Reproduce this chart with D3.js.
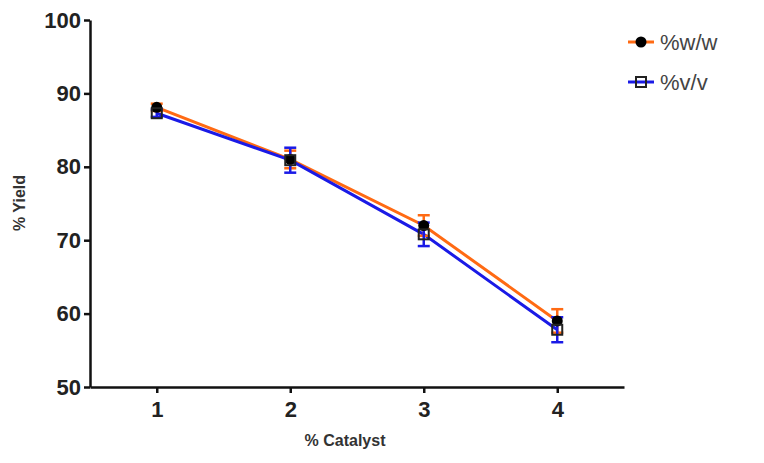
<!DOCTYPE html>
<html><head><meta charset="utf-8">
<script src="https://cdn.jsdelivr.net/npm/d3@7"></script>
<style>body{margin:0;background:#fff}svg{display:block}text{font-family:"Liberation Sans",Arial,sans-serif}</style>
</head><body><svg id="c" width="764" height="463"></svg>
<script>
const categories = [1, 2, 3, 4];
const wwValues = [88.1, 81.0, 72.0, 59.0];
const wwErrors = [0.5, 1.2, 1.4, 1.6];
const vvValues = [87.3, 80.9, 70.8, 57.8];
const vvErrors = [0.5, 1.7, 1.6, 1.7];
const yTicks = [50, 60, 70, 80, 90, 100];
const seriesNames = ["%w/w", "%v/v"];

const svg = d3.select("#c");
const x = d3.scaleLinear().domain([0.5, 4.5]).range([90, 624]);
const y = d3.scaleLinear().domain([50, 100]).range([387, 20]);

const series = [
  {name: seriesNames[0], vals: wwValues, errs: wwErrors, color: "#ff6a13", marker: "circle"},
  {name: seriesNames[1], vals: vvValues, errs: vvErrors, color: "#1a1ae6", marker: "square"}
];

const yAxis = svg.append("g").attr("transform", "translate(90,0)")
  .call(d3.axisLeft(y).tickValues(yTicks).tickFormat(d3.format("d")).tickSize(6).tickPadding(3).tickSizeOuter(0));
const xAxis = svg.append("g").attr("transform", "translate(0,387)")
  .call(d3.axisBottom(x).tickValues(categories).tickFormat(d3.format("d")).tickSize(6).tickPadding(8).tickSizeOuter(0));
[yAxis, xAxis].forEach(a => {
  a.select(".domain").attr("stroke", "#111").attr("stroke-width", 2.5);
  a.selectAll(".tick line").attr("stroke", "#111").attr("stroke-width", 2.5);
  a.selectAll(".tick text").attr("fill", "#222").attr("font-size", 22).attr("font-weight", "bold");
});

svg.append("text").attr("x", 345).attr("y", 446).attr("text-anchor", "middle")
  .attr("font-size", 16).attr("font-weight", "bold").attr("fill", "#333").text("% Catalyst");
svg.append("text").attr("transform", "translate(25,203) rotate(-90)").attr("text-anchor", "middle")
  .attr("font-size", 16).attr("font-weight", "bold").attr("fill", "#333").text("% Yield");

const line = d3.line().x((d, i) => x(categories[i])).y(d => y(d));

series.forEach(s => {
  svg.append("path").datum(s.vals).attr("d", line).attr("fill", "none")
    .attr("stroke", s.color).attr("stroke-width", 3);
});
series.forEach(s => {
  const g = svg.append("g");
  s.vals.forEach((v, i) => {
    const cx = x(categories[i]);
    const e = s.errs[i];
    g.append("line").attr("x1", cx).attr("x2", cx).attr("y1", y(v + e)).attr("y2", y(v - e))
      .attr("stroke", s.color).attr("stroke-width", 2.5);
    [v + e, v - e].forEach(b => g.append("line").attr("x1", cx - 6).attr("x2", cx + 6)
      .attr("y1", y(b)).attr("y2", y(b)).attr("stroke", s.color).attr("stroke-width", 2.5));
  });
});
function marker(g, type, cx, cy) {
  if (type === "circle") g.append("circle").attr("cx", cx).attr("cy", cy).attr("r", 5.5).attr("fill", "#000");
  else g.append("rect").attr("x", cx - 5).attr("y", cy - 5).attr("width", 10).attr("height", 10)
    .attr("fill", "none").attr("stroke", "#222").attr("stroke-width", 2);
}
series.forEach(s => {
  const g = svg.append("g");
  s.vals.forEach((v, i) => marker(g, s.marker, x(categories[i]), y(v)));
});

series.forEach((s, i) => {
  const ly = 42 + i * 40;
  svg.append("line").attr("x1", 628).attr("x2", 654).attr("y1", ly).attr("y2", ly)
    .attr("stroke", s.color).attr("stroke-width", 3);
  marker(svg, s.marker, 641, ly);
  svg.append("text").attr("x", 660).attr("y", ly + 8).attr("font-size", 22)
    .attr("fill", "#444").text(s.name);
});
</script></body></html>
